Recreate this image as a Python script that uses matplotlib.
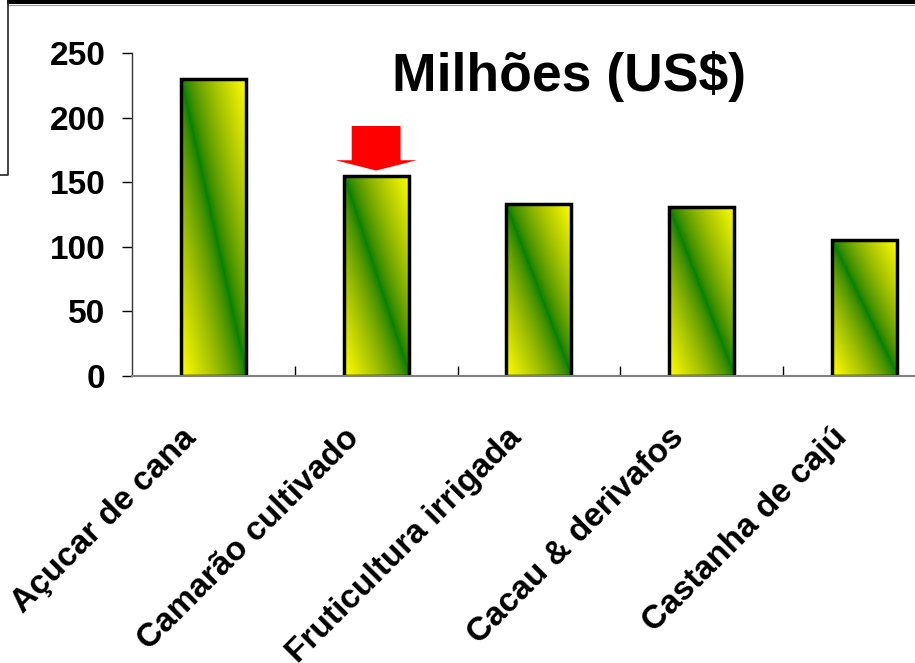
import numpy as np
import matplotlib
matplotlib.use("Agg")
import matplotlib.pyplot as plt
from matplotlib.patches import Polygon, Rectangle
from matplotlib.lines import Line2D
from matplotlib.transforms import ScaledTranslation, blended_transform_factory

categories = ["Açucar de cana", "Camarão cultivado", "Fruticultura irrigada",
              "Cacau & derivafos", "Castanha de cajú"]
values = [230, 155, 133, 131, 105]
yticks = [0, 50, 100, 150, 200, 250]
title = "Milhões (US$)"
highlight = 1

W, H, DPI = 915, 663, 100
plt.rcParams['font.family'] = ['Liberation Sans', 'DejaVu Sans']

fig = plt.figure(figsize=(W / DPI, H / DPI), dpi=DPI)
fig.patch.set_facecolor('white')

# axes in pixel geometry
ax_left, ax_bottom_px, ax_top_px = 132, 376, 53
cat_w = 162.75
ax = fig.add_axes([ax_left / W, (H - ax_bottom_px) / H,
                   5 * cat_w / W, (ax_bottom_px - ax_top_px) / H])
ax.set_facecolor('none')

n = 200
s = np.linspace(0, 1, n)
S, R = np.meshgrid(s, s)
d = np.clip(np.abs(S + R - 1.0), 0, 1)
grad = np.zeros((n, n, 3))
grad[..., 0] = d ** 0.62
grad[..., 1] = (128 + 127 * d ** 0.9) / 255.0
grad[..., 2] = 0.0

bw = 0.4
bars = ax.bar(range(len(values)), values, width=bw, facecolor='none',
              edgecolor='black', linewidth=2.5, zorder=3)
for b, v in zip(bars, values):
    x0 = b.get_x()
    im = ax.imshow(grad, origin='lower', extent=(x0, x0 + bw, 0, v),
                   aspect='auto', zorder=2, interpolation='bilinear')
    im.set_clip_path(b)

ax.set_xlim(-0.5, len(values) - 0.5)
ax.set_ylim(0, 250)

# red arrow over highlighted bar
hv = values[highlight]
arrow = Polygon([[highlight - 0.15, hv + 38.5], [highlight + 0.15, hv + 38.5],
                 [highlight + 0.15, hv + 12], [highlight + 0.25, hv + 12],
                 [highlight, hv + 4], [highlight - 0.25, hv + 12],
                 [highlight - 0.15, hv + 12]], closed=True,
                facecolor='#ff0000', edgecolor='none', zorder=4)
ax.add_patch(arrow)

# spines
for sp in ['top', 'right']:
    ax.spines[sp].set_visible(False)
ax.spines['left'].set_color('#333333')
ax.spines['left'].set_linewidth(1.0)
ax.spines['bottom'].set_color('#808080')
ax.spines['bottom'].set_linewidth(1.5)
ax.spines['bottom'].set_zorder(5)

ax.set_yticks(yticks)
ax.set_yticklabels([str(t) for t in yticks], fontsize=24, fontweight='bold')
ax.tick_params(axis='y', direction='out', length=7.2, width=1, pad=12,
               colors='black')
ax.set_xticks(range(len(values)))
ax.set_xticklabels([])
ax.tick_params(axis='x', which='major', length=0)
ax.set_xticks([i + 0.5 for i in range(len(values) - 1)], minor=True)
ax.tick_params(axis='x', which='minor', direction='in', length=7.2, width=1,
               colors='black')

trans = blended_transform_factory(ax.transData, ax.transAxes)
for i, c in enumerate(categories):
    t = trans + ScaledTranslation(-22 / DPI, -57 / DPI, fig.dpi_scale_trans)
    ax.text(i, 0, c, transform=t, rotation=45, rotation_mode='anchor',
            ha='right', va='center', fontsize=24, fontweight='bold',
            clip_on=False)

fig.text(569 / W, 1 - 77 / H, title, ha='center', va='center',
         fontsize=38.5, fontweight='bold')

# slide decorations
fig.patches.append(Rectangle((7 / W, 1 - 4 / H), 1 - 7 / W, 4 / H,
                             transform=fig.transFigure, facecolor='black',
                             edgecolor='none'))
fig.lines.append(Line2D([7 / W, 1], [1 - 4.5 / H, 1 - 4.5 / H],
                        transform=fig.transFigure, color='#999999', lw=0.8))
fig.lines.append(Line2D([8 / W, 8 / W, 0], [1, 1 - 175 / H, 1 - 175 / H],
                        transform=fig.transFigure, color='#222222', lw=1.2))

fig.savefig('out.png', dpi=DPI)
